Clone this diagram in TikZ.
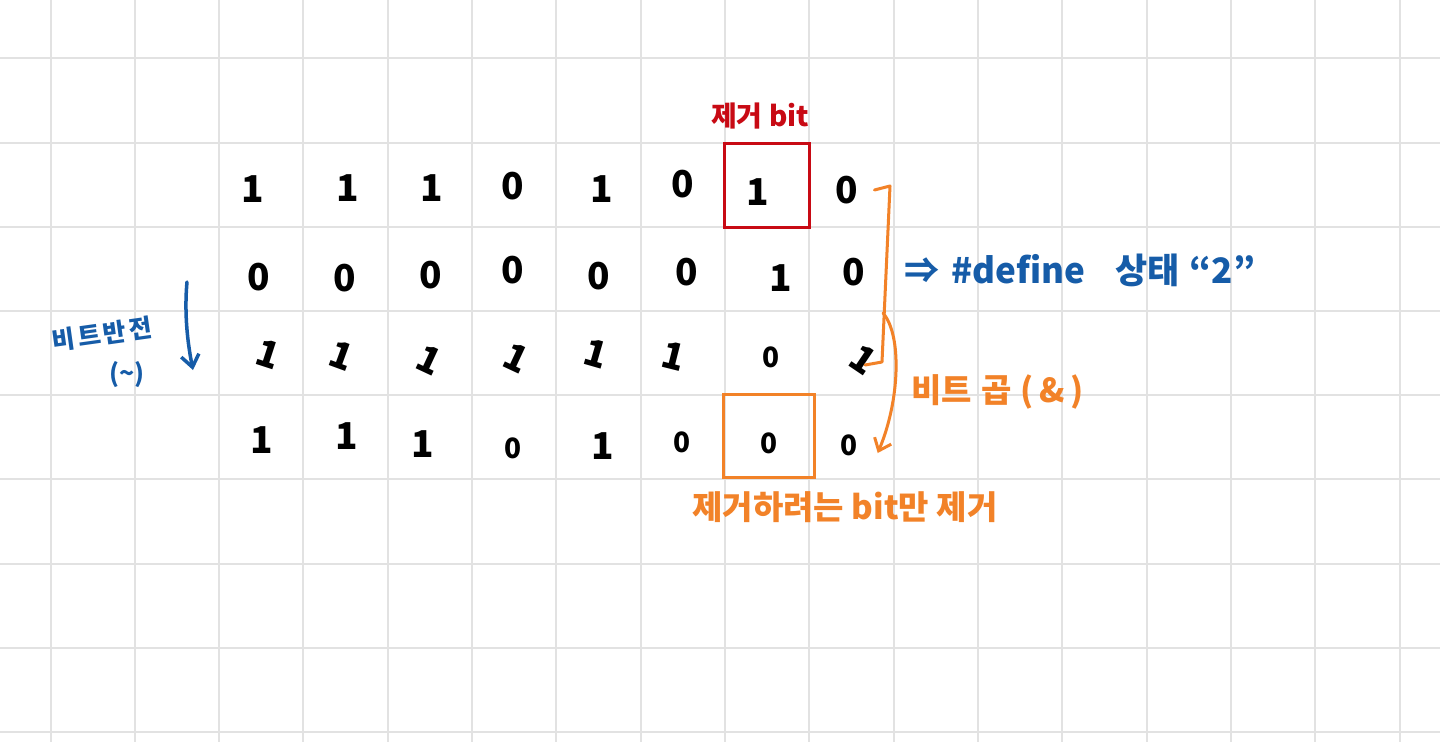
\documentclass[tikz,border=0pt]{standalone}
\usepackage{fontspec}
\newfontfamily\kr{Noto Sans CJK KR}
\usetikzlibrary{arrows.meta}
\definecolor{gridc}{RGB}{226,226,226}
\definecolor{inkred}{RGB}{200,10,20}
\definecolor{inkorange}{RGB}{242,130,40}
\definecolor{inkblue}{RGB}{22,92,168}
\tikzset{
  grid line/.style={draw=gridc, line width=2pt},
  digit/.style={font=\kr\bfseries\fontsize{37}{37}\selectfont, text=black, inner sep=0pt},
  smalldigit/.style={font=\kr\bfseries\fontsize{28}{28}\selectfont, text=black, inner sep=0pt},
  lean/.style={digit, rotate=-20},
  redlabel/.style={font=\kr\bfseries\fontsize{28}{28}\selectfont, text=inkred, inner sep=0pt},
  bluelabel/.style={font=\kr\bfseries\fontsize{35}{35}\selectfont, text=inkblue, inner sep=0pt},
  bluesmall/.style={font=\kr\bfseries\fontsize{25}{25}\selectfont, text=inkblue, inner sep=0pt},
  orangelabel/.style={font=\kr\bfseries\fontsize{33}{33}\selectfont, text=inkorange, inner sep=0pt},
  redbox/.style={draw=inkred, line width=3pt, minimum width=85pt, minimum height=84pt, inner sep=0pt},
  orangebox/.style={draw=inkorange, line width=3pt, minimum width=91pt, minimum height=83pt, inner sep=0pt},
  orangeline/.style={draw=inkorange, line width=3pt, line cap=round, line join=round},
  orangearrow/.style={orangeline, -{Straight Barb[length=11pt, width=18pt, line width=3pt]}},
  bluearrow/.style={draw=inkblue, line width=3.5pt, line cap=round, -{Straight Barb[length=12pt, width=18pt, line width=3.5pt]}},
}
\begin{document}
\begin{tikzpicture}[x=1pt,y=-1pt]
\fill[white] (0,0) rectangle (1440,742);
\useasboundingbox (0,0) rectangle (1440,742);
\foreach \i in {0,...,16} \draw[grid line] ({50.5+84.33*\i},0) -- ({50.5+84.33*\i},742);
\foreach \j in {0,...,8} \draw[grid line] (0,{58.3+84.2*\j}) -- (1440,{58.3+84.2*\j});

% row 1
\node[digit] (r1c1) at (253,189) {1};
\node[digit] (r1c2) at (348,188) {1};
\node[digit] (r1c3) at (432,188) {1};
\node[digit] (r1c4) at (513,186) {0};
\node[digit] (r1c5) at (602,189) {1};
\node[digit] (r1c6) at (683,184) {0};
\node[digit] (r1c7) at (758,192) {1};
\node[digit] (r1c8) at (847,190) {0};
% row 2
\node[digit] (r2c1) at (259,277) {0};
\node[digit] (r2c2) at (345,278) {0};
\node[digit] (r2c3) at (431,275) {0};
\node[digit] (r2c4) at (513,270) {0};
\node[digit] (r2c5) at (599,276) {0};
\node[digit] (r2c6) at (687,272) {0};
\node[digit] (r2c7) at (781,278) {1};
\node[digit] (r2c8) at (854,272) {0};
% row 3
\node[lean, rotate=2] (r3c1) at (268,354) {1};
\node[lean] (r3c2) at (342,356) {1};
\node[lean, rotate=-5] (r3c3) at (429,360) {1};
\node[lean, rotate=-5] (r3c4) at (516,358) {1};
\node[lean, rotate=4] (r3c5) at (596,354) {1};
\node[lean, rotate=6] (r3c6) at (674,356) {1};
\node[smalldigit] (r3c7) at (771,357) {0};
\node[lean, rotate=-14] (r3c8) at (863,360) {1};
% row 4
\node[digit] (r4c1) at (262,440) {1};
\node[digit] (r4c2) at (347,436) {1};
\node[digit] (r4c3) at (423,444) {1};
\node[smalldigit] (r4c4) at (513,448) {0};
\node[digit] (r4c5) at (603,446) {1};
\node[smalldigit] (r4c6) at (682,442) {0};
\node[smalldigit] (r4c7) at (769,443) {0};
\node[smalldigit] (r4c8) at (849,445) {0};

% boxes
\node[redbox] (rbox) at (766.5,185) {};
\node[orangebox] (obox) at (769,436) {};

% labels
\node[redlabel] (lremove) at (760,116) {제거 bit};
\node[bluelabel, anchor=base west] (ldefine) at (904,283) {⇒\hspace{12pt}\#define\hspace{30pt}상태\hspace{10pt}“2”};
\node[bluesmall, rotate=8] (lnot) at (102,334) {비\kern3pt 트\kern3pt 반\kern3pt 전};
\node[bluesmall] (ltilde) at (127,375) {(\textasciitilde)};
\node[orangelabel, anchor=base west] (land) at (911,402) {비트\hspace{10pt}곱\hspace{8pt}(\hspace{6pt}\&\hspace{6pt})};
\node[orangelabel] (lonly) at (845,507) {제거하려는 bit만 제거};

% bracket
\coordinate (bA) at ([xshift=16pt]r1c8.east);
\coordinate (bB) at (890,186);
\coordinate (bC) at (882,362);
\coordinate (bD) at (865,365);
\coordinate (bM) at (883,313);
\draw[orangeline] (bA) -- (bB) -- (bC) -- (bD);
\draw[orangearrow] (bM) .. controls (902,335) and (900,400) .. ([xshift=20pt,yshift=-8pt]r4c8.east);

% blue arrow
\coordinate (nTop) at (187,282);
\coordinate (nBot) at (193,370);
\draw[bluearrow] (nTop) .. controls (184,315) and (188,345) .. (nBot);
\end{tikzpicture}
\end{document}
